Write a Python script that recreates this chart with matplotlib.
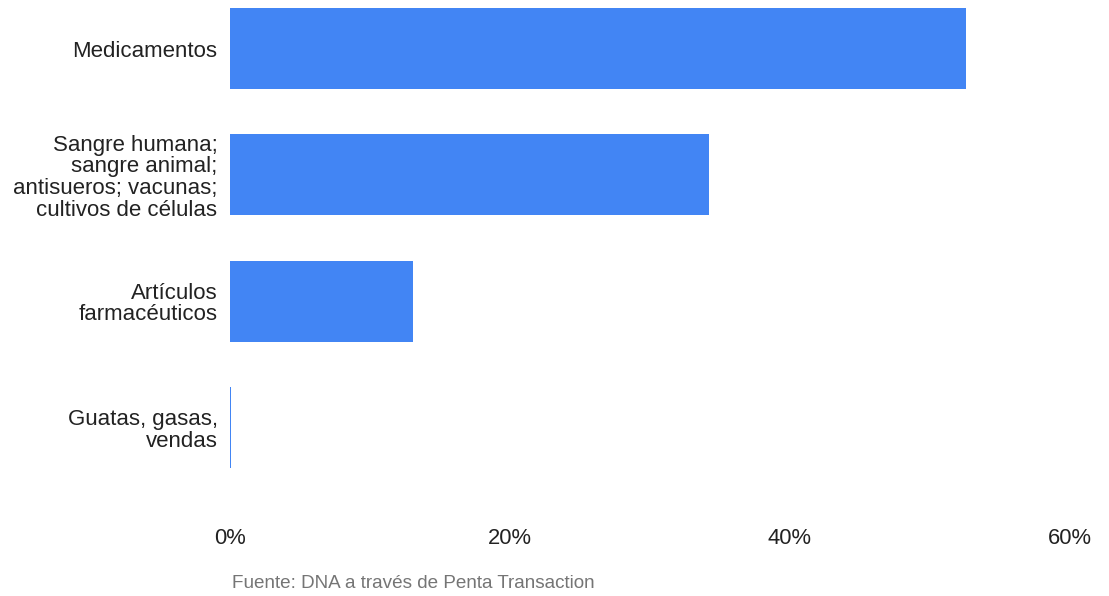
import matplotlib
matplotlib.use("Agg")
import matplotlib.pyplot as plt
from matplotlib.ticker import FuncFormatter

categories = [
    "Medicamentos",
    "Sangre humana;\nsangre animal;\nantisueros; vacunas;\ncultivos de células",
    "Artículos\nfarmacéuticos",
    "Guatas, gasas,\nvendas",
]
shares = [52.6, 34.2, 13.1, 0.1]
xticks = [0, 20, 40, 60]
source = "Fuente: DNA a través de Penta Transaction"

plt.rcParams["font.family"] = ["Liberation Sans", "DejaVu Sans"]

W, H = 1109, 596
fig = plt.figure(figsize=(W / 100, H / 100), dpi=100)
ax_left, ax_right, ax_top, ax_bottom = 230, 1070, 0, 490
ax = fig.add_axes([ax_left / W, 1 - ax_bottom / H,
                   (ax_right - ax_left) / W, (ax_bottom - ax_top) / H])

pos = list(range(len(categories)))
ax.barh(pos, shares, height=0.64, color="#4285F4", edgecolor="none")

ax.set_xlim(0, 60)
ax.set_ylim(3.495, -0.384)
ax.set_xticks(xticks)
ax.xaxis.set_major_formatter(FuncFormatter(lambda v, _: f"{v:.0f}%"))
ax.set_yticks(pos)
ax.set_yticklabels(categories, ha="right", linespacing=1.04)

ax.tick_params(axis="x", length=0, pad=27, labelsize=15.8, labelcolor="#222222")
ax.tick_params(axis="y", length=0, pad=9, labelsize=16, labelcolor="#222222")
for s in ax.spines.values():
    s.set_visible(False)

fig.text(232 / W, 1 - 583 / H, source, ha="left", va="center",
         fontsize=13.6, color="#757575")

fig.savefig("out.png", dpi=100)
